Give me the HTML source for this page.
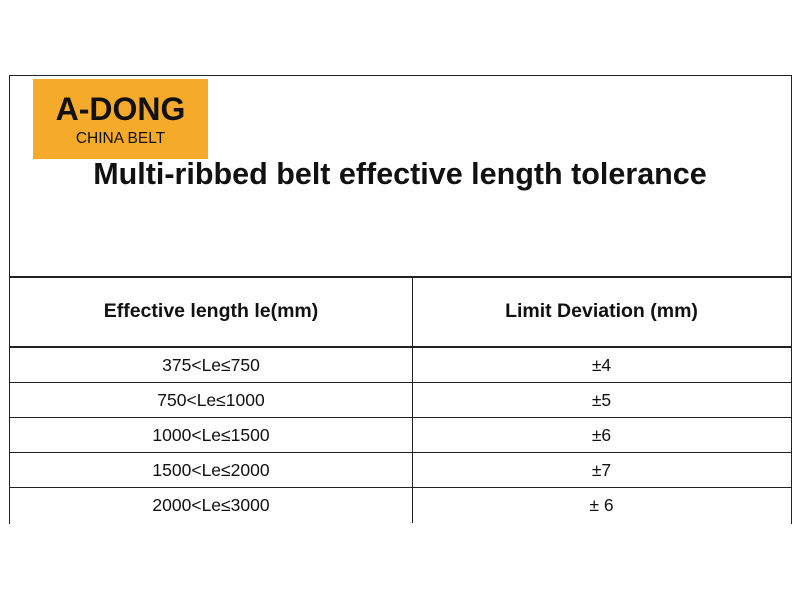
<!DOCTYPE html>
<html><head><meta charset="utf-8"><style>
body{margin:0;width:800px;height:600px;background:#fff;position:relative;overflow:hidden;font-family:"Liberation Sans",sans-serif;color:#111}
.a{position:absolute}
.h{background:#222}
.c{position:absolute;text-align:center;font-size:17.5px}
</style></head><body>
<div class="a" style="left:9px;top:75px;width:781px;height:448px;border-left:1px solid #222;border-right:1px solid #222;border-top:1px solid #222"></div>
<div class="a" style="left:33px;top:79px;width:175px;height:80px;background:#F6AA2A">
 <div class="a" style="left:0;width:175px;top:12px;text-align:center;font-size:32px;font-weight:bold">A-DONG</div>
 <div class="a" style="left:0;width:175px;top:51px;text-align:center;font-size:15.5px">CHINA BELT</div>
</div>
<div class="a" style="left:0;width:800px;top:157px;text-align:center;font-size:30.5px;font-weight:bold">Multi-ribbed belt effective length tolerance</div>
<div class="a h" style="left:9px;top:276px;width:782px;height:2px"></div>
<div class="a h" style="left:9px;top:346px;width:782px;height:2px"></div>
<div class="a h" style="left:9px;top:382px;width:782px;height:1px"></div>
<div class="a h" style="left:9px;top:417px;width:782px;height:1px"></div>
<div class="a h" style="left:9px;top:452px;width:782px;height:1px"></div>
<div class="a h" style="left:9px;top:487px;width:782px;height:1px"></div>
<div class="a h" style="left:412px;top:277px;width:1px;height:246px"></div>
<div class="c" style="left:10px;width:402px;top:300px;font-weight:bold;font-size:19.5px">Effective length le(mm)</div>
<div class="c" style="left:413px;width:377px;top:300px;font-weight:bold;font-size:19.5px">Limit Deviation (mm)</div>
<div class="c" style="left:10px;width:402px;top:355px">375&lt;Le≤750</div>
<div class="c" style="left:413px;width:377px;top:355px">±4</div>
<div class="c" style="left:10px;width:402px;top:390px">750&lt;Le≤1000</div>
<div class="c" style="left:413px;width:377px;top:390px">±5</div>
<div class="c" style="left:10px;width:402px;top:425px">1000&lt;Le≤1500</div>
<div class="c" style="left:413px;width:377px;top:425px">±6</div>
<div class="c" style="left:10px;width:402px;top:460px">1500&lt;Le≤2000</div>
<div class="c" style="left:413px;width:377px;top:460px">±7</div>
<div class="c" style="left:10px;width:402px;top:495px">2000&lt;Le≤3000</div>
<div class="c" style="left:413px;width:377px;top:495px">± 6</div>
</body></html>
